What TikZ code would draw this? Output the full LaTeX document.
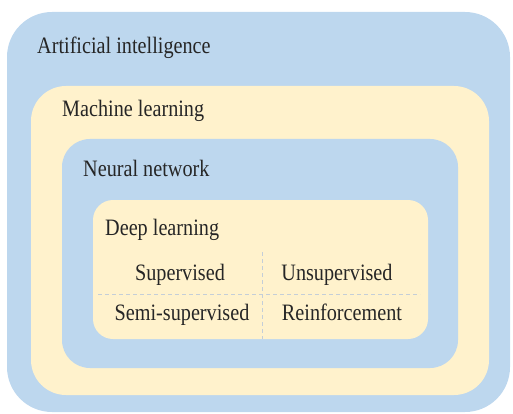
\documentclass[tikz,border=0pt]{standalone}
\usepackage{fontspec}
\setmainfont{Liberation Serif}[FakeStretch=0.86]
\definecolor{aiblue}{RGB}{189,215,238}
\definecolor{mlcream}{RGB}{255,242,204}
\definecolor{sepgray}{RGB}{196,206,216}
\definecolor{txt}{RGB}{38,38,38}
\begin{document}
\begin{tikzpicture}[x=1pt,y=-1pt,
    label/.style={inner sep=0pt,text=txt,font=\fontsize{23.5}{28}\selectfont},
    sep/.style={draw=sepgray,dashed,dash pattern=on 4pt off 3pt,line width=0.8pt}]
    \useasboundingbox (0,0) rectangle (513,414);
    % nested fields
    \fill[aiblue,rounded corners=45pt] (7,12) rectangle (510,412);
    \fill[mlcream,rounded corners=35pt] (31,86) rectangle (489,395);
    \fill[aiblue,rounded corners=28pt] (62,139) rectangle (458,368);
    \fill[mlcream,rounded corners=20pt] (93,200) rectangle (428,339);
    \node[label,anchor=base west] (AI) at (37,54) {Artificial intelligence};
    \node[label,anchor=base west] (ML) at (62,117) {Machine learning};
    \node[label,anchor=base west] (NN) at (83,176) {Neural network};
    \node[label,anchor=base west] (DL) at (105,235) {Deep learning};
    % four kinds of learning
    \node[label,anchor=base] (SUP) at (180,280) {Supervised};
    \node[label,anchor=base] (UNS) at (337,280) {Unsupervised};
    \node[label,anchor=base] (SEMI) at (182,320) {Semi-supervised};
    \node[label,anchor=base] (REIN) at (342,320) {Reinforcement};
    \draw[sep] (262,252) -- (262,339);
    \draw[sep] (98,294) -- (420,294);
\end{tikzpicture}
\end{document}
